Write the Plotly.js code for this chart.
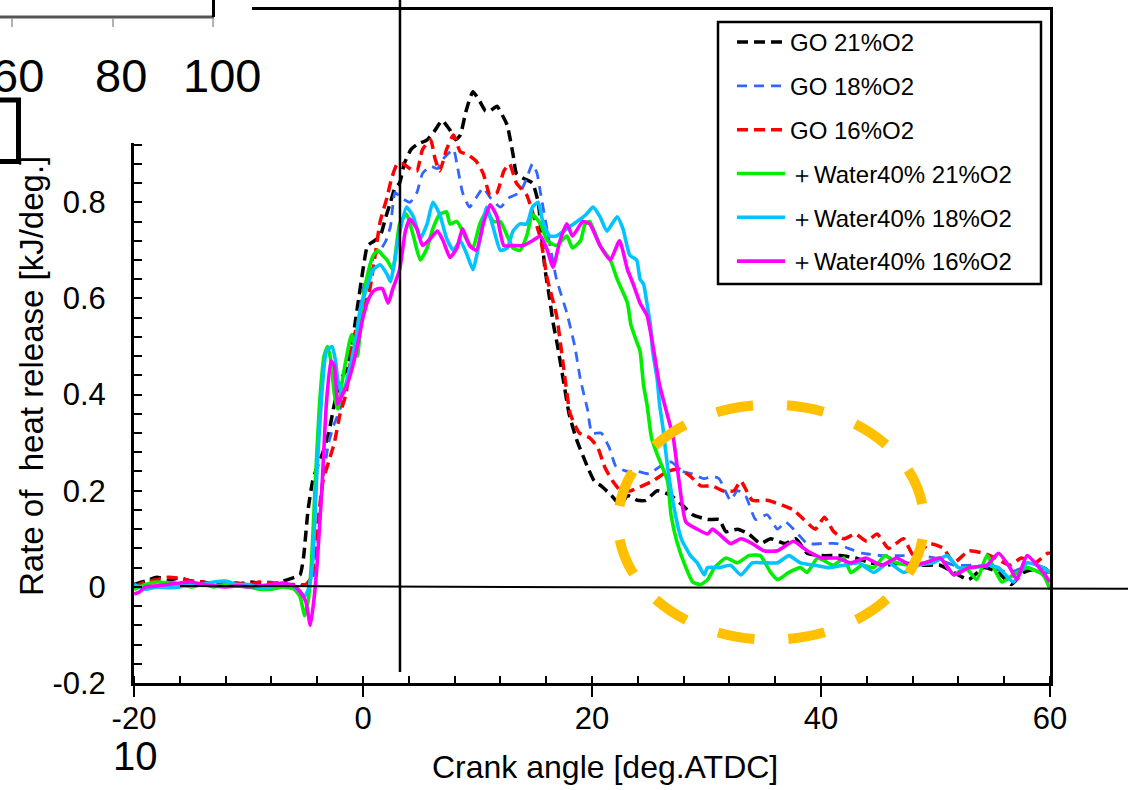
<!DOCTYPE html>
<html><head><meta charset="utf-8">
<script src="https://cdn.plot.ly/plotly-3.0.1.min.js"></script>
<style>html,body{margin:0;padding:0;background:#fff;}#chart{width:1128px;height:790px;}</style>
</head><body><div id="chart"></div>
<script>
// ---- data: [crank angle (deg ATDC), rate of heat release (kJ/deg)] ----
const GO_21 = [[-20,0.005],[-19,0.012],[-18,0.02],[-17,0.015],[-16,0.018],[-15,0.012],[-14,0.01],[-13,0.005],[-12,0.008],[-11,0.005],[-10,0.01],[-9,0.008],[-8,0.005],[-7,0.012],[-6,0.02],[-5.5,0.025],[-5.2,0.06],[-4.8,0.16],[-4.4,0.22],[-4,0.25],[-3.5,0.28],[-3,0.32],[-2.5,0.38],[-2,0.43],[-1.5,0.45],[-1,0.5],[-0.5,0.58],[0,0.66],[0.4,0.71],[1,0.72],[1.5,0.73],[2,0.77],[2.4,0.8],[2.8,0.83],[3.2,0.84],[3.6,0.88],[4.2,0.91],[4.7,0.92],[5.6,0.93],[6.3,0.95],[6.9,0.97],[7.6,0.95],[8.1,0.93],[8.5,0.94],[9,0.99],[9.6,1.03],[10.2,1.01],[10.7,0.99],[11.1,0.99],[11.7,1.0],[12.2,0.98],[12.6,0.96],[13.1,0.9],[13.4,0.86],[14,0.85],[14.8,0.84],[15.3,0.8],[15.6,0.73],[15.9,0.66],[16.3,0.6],[16.6,0.55],[17,0.5],[17.5,0.43],[18,0.36],[18.6,0.31],[19.6,0.25],[20.2,0.22],[20.8,0.21],[21.7,0.19],[22.5,0.17],[23.1,0.19],[24,0.18],[24.7,0.18],[25.7,0.2],[26.9,0.19],[27.9,0.17],[28.8,0.15],[30.1,0.14],[31.1,0.14],[31.7,0.115],[32.7,0.12],[33.7,0.11],[34.7,0.09],[35.6,0.1],[36.9,0.09],[37.8,0.1],[38.8,0.07],[40.1,0.065],[41.7,0.065],[43,0.06],[44.3,0.05],[45.6,0.045],[47.2,0.05],[48.8,0.045],[50.4,0.045],[51.6,0.03],[52.9,0.015],[54.2,0.04],[55.5,0.03],[56.6,0.005],[57.7,0.03],[59.4,0.04],[60,0.03]];
const GO_18 = [[-20,0],[-19,0.01],[-18,0.015],[-17,0.01],[-16,0.008],[-15,0.01],[-14,0.005],[-13,0.01],[-12,0.005],[-11,0.008],[-10,0.005],[-9,0.01],[-8,0.01],[-7,0.005],[-6,0],[-5,0.005],[-4.5,0.01],[-4,0.08],[-3.5,0.22],[-3,0.3],[-2.5,0.34],[-2,0.37],[-1.5,0.42],[-1,0.48],[-0.5,0.54],[0,0.62],[0.6,0.66],[1,0.69],[1.5,0.7],[2,0.72],[2.4,0.75],[2.8,0.82],[3.3,0.81],[4.1,0.8],[4.7,0.82],[5.2,0.86],[5.9,0.875],[6.5,0.87],[7,0.89],[7.9,0.91],[8.2,0.88],[8.7,0.82],[9.3,0.79],[9.9,0.81],[10.5,0.83],[11.1,0.81],[12,0.79],[12.8,0.81],[13.7,0.82],[14.3,0.85],[14.8,0.88],[15.2,0.86],[15.5,0.82],[16.1,0.74],[16.9,0.64],[17.8,0.57],[18.5,0.5],[19,0.43],[19.6,0.37],[20,0.32],[20.8,0.32],[21.5,0.29],[22.1,0.25],[23.1,0.24],[24,0.24],[25,0.235],[25.9,0.25],[26.9,0.26],[27.9,0.24],[28.8,0.235],[29.8,0.225],[30.5,0.23],[31.1,0.225],[32.1,0.18],[32.7,0.2],[33.4,0.19],[34.3,0.14],[35.3,0.15],[36.2,0.12],[36.9,0.135],[37.8,0.115],[38.8,0.09],[40.1,0.09],[41.4,0.09],[42.4,0.08],[43.6,0.07],[45.3,0.065],[46.8,0.065],[48.5,0.065],[50,0.06],[51.6,0.045],[53.3,0.045],[54.8,0.04],[56.5,0.03],[57.7,0.04],[59.4,0.03],[60,0.03]];
const GO_16 = [[-20,0],[-19,0.01],[-18,0.015],[-17,0.02],[-16,0.018],[-15,0.012],[-14,0.01],[-13,0.005],[-12,0.01],[-11,0.008],[-10,0.005],[-9,0.01],[-8,0.008],[-7,0.005],[-6,0.005],[-5,0.005],[-4.5,0.02],[-4,0.12],[-3.5,0.22],[-3,0.26],[-2.5,0.3],[-2,0.36],[-1.5,0.4],[-1.2,0.45],[-0.9,0.51],[-0.3,0.56],[0.2,0.59],[0.6,0.62],[1,0.68],[1.5,0.76],[2.1,0.81],[2.5,0.85],[3,0.88],[3.5,0.88],[4.1,0.87],[4.7,0.865],[5.2,0.91],[5.9,0.93],[6.3,0.89],[6.7,0.865],[7.3,0.91],[7.9,0.94],[8.5,0.905],[9.1,0.9],[9.9,0.885],[10.5,0.86],[11.1,0.815],[11.7,0.82],[12.3,0.865],[12.8,0.88],[13.4,0.84],[14.3,0.815],[14.8,0.78],[15.5,0.725],[16.1,0.64],[16.9,0.565],[17.5,0.46],[18.1,0.36],[18.9,0.32],[19.8,0.31],[20.5,0.29],[21.1,0.25],[21.8,0.22],[22.5,0.2],[23.4,0.2],[24.4,0.21],[25.3,0.22],[26.6,0.24],[27.6,0.245],[28.6,0.23],[29.5,0.21],[30.5,0.21],[31.4,0.2],[32.4,0.2],[33,0.22],[34,0.18],[35.3,0.18],[36.6,0.17],[37.6,0.16],[38.5,0.14],[39.5,0.12],[40.3,0.145],[41.1,0.115],[42,0.1],[43,0.11],[44,0.095],[44.9,0.11],[45.9,0.08],[47.2,0.1],[48.1,0.065],[49.5,0.09],[50.7,0.08],[51.6,0.05],[52.9,0.075],[54.2,0.07],[55.2,0.06],[56.5,0.045],[57.5,0.06],[58.7,0.05],[59.8,0.07],[60,0.07]];
const W40_21 = [[-20,-0.005],[-19,0.005],[-18,0.01],[-17,0.008],[-16,0.005],[-15,0],[-14,0.005],[-13,0],[-12,0.005],[-11,0.002],[-10,0],[-9,-0.005],[-8,-0.005],[-7,0],[-6,-0.005],[-5.5,-0.02],[-5.1,-0.06],[-4.8,-0.03],[-4.5,0.05],[-4.2,0.2],[-3.8,0.38],[-3.4,0.48],[-3.1,0.5],[-2.8,0.47],[-2.5,0.4],[-2.2,0.37],[-1.8,0.43],[-1.5,0.47],[-1,0.525],[-0.5,0.48],[0,0.6],[0.5,0.66],[0.9,0.69],[1.3,0.7],[1.7,0.69],[2.1,0.68],[2.6,0.66],[3.2,0.755],[3.8,0.775],[4.4,0.73],[5,0.68],[5.6,0.705],[6.1,0.745],[6.7,0.775],[7.3,0.78],[7.6,0.755],[8.2,0.76],[9.1,0.72],[9.6,0.705],[10.2,0.755],[10.8,0.78],[11.4,0.76],[12,0.76],[12.6,0.73],[13.1,0.705],[13.7,0.7],[14.3,0.73],[14.8,0.775],[15.5,0.755],[16.1,0.72],[16.9,0.71],[17.8,0.73],[18.3,0.705],[19,0.72],[19.4,0.755],[19.8,0.76],[20.7,0.71],[21.6,0.68],[22.2,0.64],[23.1,0.59],[23.4,0.545],[23.9,0.51],[24.2,0.49],[24.5,0.42],[24.8,0.38],[25.2,0.31],[25.7,0.275],[26.6,0.22],[26.9,0.15],[27.4,0.095],[28.2,0.04],[28.8,0.01],[29.5,0.005],[30.1,0.015],[30.7,0.04],[31.7,0.06],[32.7,0.05],[33.7,0.065],[34.7,0.065],[35.6,0.03],[36.2,0.015],[37.2,0.03],[38.2,0.04],[38.8,0.03],[39.7,0.06],[41.1,0.045],[42,0.06],[42.6,0.03],[43.6,0.045],[44.6,0.04],[45.6,0.065],[46.6,0.05],[47.8,0.045],[49.1,0.05],[50.4,0.06],[51.6,0.025],[52.6,0.04],[53.6,0.015],[54.5,0.065],[55.8,0.01],[56.8,0.025],[58,0.04],[59.4,0.025],[60,-0.005]];
const W40_18 = [[-20,0.005],[-19,-0.005],[-18,0],[-17,-0.002],[-16,0],[-15,0.005],[-14,0.005],[-13,0.01],[-12,0.012],[-11,0.005],[-10,0.005],[-9,-0.002],[-8,0],[-7,0.005],[-6,0],[-5.5,-0.01],[-5.1,-0.02],[-4.7,0],[-4.4,0.05],[-4,0.25],[-3.6,0.4],[-3.2,0.49],[-2.7,0.5],[-2.4,0.47],[-2.2,0.43],[-1.8,0.4],[-1.2,0.45],[-0.6,0.52],[-0.3,0.57],[0.3,0.62],[0.9,0.66],[1.5,0.67],[2.1,0.65],[2.4,0.635],[3.1,0.725],[3.8,0.79],[4.4,0.77],[5,0.725],[5.6,0.755],[6.1,0.8],[6.7,0.775],[7.3,0.725],[7.9,0.7],[8.5,0.72],[9.1,0.69],[9.6,0.66],[10.2,0.72],[10.8,0.79],[11.4,0.745],[12,0.7],[12.6,0.705],[13.1,0.74],[13.7,0.755],[14.3,0.755],[14.8,0.79],[15.3,0.8],[15.7,0.76],[16.3,0.73],[16.9,0.73],[17.8,0.745],[18.7,0.76],[19.5,0.775],[20.1,0.79],[20.7,0.77],[21.3,0.74],[22.2,0.77],[22.7,0.745],[23.3,0.69],[23.9,0.68],[24.2,0.64],[24.5,0.63],[24.8,0.59],[25.1,0.545],[25.3,0.49],[25.7,0.43],[25.9,0.38],[26.2,0.33],[26.6,0.25],[27.2,0.16],[27.8,0.1],[28.6,0.065],[29.2,0.05],[29.8,0.025],[30.1,0.04],[31.1,0.04],[32.1,0.045],[33,0.025],[34,0.05],[35,0.05],[36.2,0.05],[37.2,0.065],[38.2,0.05],[39.5,0.045],[40.7,0.04],[42,0.045],[43.3,0.05],[44.6,0.03],[45.9,0.05],[47.2,0.03],[48.5,0.045],[49.8,0.05],[51,0.065],[52,0.04],[53.3,0.04],[54.5,0.045],[55.5,0.04],[56.8,0.01],[58,0.05],[59.4,0.04],[60,0.03]];
const W40_16 = [[-20,-0.015],[-19.5,-0.01],[-19,0],[-18,0.002],[-17,0.005],[-16,0.008],[-15,0.01],[-14,0.005],[-13,0.002],[-12,0],[-11,0.002],[-10,0],[-9,0.002],[-8,0.005],[-7,0.008],[-6,0.002],[-5.5,-0.01],[-5,-0.03],[-4.6,-0.08],[-4.3,-0.03],[-4,0.05],[-3.6,0.2],[-3.2,0.38],[-2.8,0.47],[-2.5,0.46],[-2.2,0.38],[-1.8,0.4],[-1.4,0.42],[-1,0.45],[-0.5,0.5],[0,0.56],[0.5,0.6],[0.9,0.615],[1.3,0.62],[1.7,0.62],[2.2,0.59],[2.6,0.62],[3.2,0.66],[3.7,0.74],[4.1,0.765],[4.7,0.745],[5.2,0.71],[5.9,0.725],[6.5,0.74],[7,0.72],[7.6,0.685],[8.2,0.705],[8.7,0.745],[9.3,0.71],[9.9,0.7],[10.5,0.755],[11.1,0.795],[11.7,0.77],[12.3,0.71],[13.1,0.71],[14,0.71],[14.8,0.72],[15.5,0.73],[16.1,0.7],[16.6,0.665],[17.2,0.72],[17.8,0.755],[18.3,0.73],[19.2,0.76],[19.8,0.755],[20.7,0.71],[21.6,0.68],[22.4,0.72],[23.1,0.66],[23.6,0.63],[24.2,0.59],[24.8,0.565],[25.3,0.505],[25.9,0.42],[26.5,0.365],[27.1,0.31],[27.6,0.22],[28.2,0.135],[29.2,0.12],[30.1,0.11],[30.5,0.12],[31.1,0.11],[32.1,0.09],[33,0.1],[34,0.09],[35,0.075],[36.2,0.075],[37.6,0.095],[38.8,0.075],[40.1,0.06],[41.4,0.06],[42.6,0.05],[43.9,0.06],[45.3,0.045],[46.6,0.06],[47.8,0.045],[49.1,0.05],[50.4,0.06],[51.6,0.025],[52.9,0.04],[54.5,0.045],[55.5,0.07],[56.5,0.04],[57.1,0.015],[58,0.065],[59.4,0.03],[60,0.01]];

const SERIES_NAMES = ['GO 21%O2','GO 18%O2','GO 16%O2','\uFF0BWater40% 21%O2','\uFF0BWater40% 18%O2','\uFF0BWater40% 16%O2'];
const X_TICKS = [-20, 0, 20, 40, 60];
const X_TICK_TEXT = ['-20', '0', '20', '40', '60'];
const Y_TICKS = [-0.2, 0, 0.2, 0.4, 0.6, 0.8];
const Y_TICK_TEXT = ['-0.2', '0', '0.2', '0.4', '0.6', '0.8'];
const INJECTION_MARK = 3.23;            // vertical reference line (deg ATDC)
const HIGHLIGHT = {x: [22.27, 49.0], y: [-0.11, 0.379]}; // highlighted tail region
const INSET_TICK_TEXT = ['60', '80', '100']; // fragment of neighbouring figure
const INSET_LABEL = '10';

// ---- styles ----
const STYLES = [
  {color:'#000000', width:3.5, dash:'11px,6px'},
  {color:'#3366ff', width:2.8, dash:'10px,7px'},
  {color:'#ff0000', width:3.5, dash:'11px,6px'},
  {color:'#00ee00', width:3.6, dash:'solid'},
  {color:'#00c4ff', width:3.6, dash:'solid'},
  {color:'#ff00ff', width:3.6, dash:'solid'}
];
const ALL = [GO_21, GO_18, GO_16, W40_21, W40_18, W40_16];
const FONT = 'Liberation Sans, Arial, sans-serif';

const traces = ALL.map((s, i) => ({
  type:'scatter', mode:'lines', name: SERIES_NAMES[i], legendgroup:'g'+i,
  x: s.map(p => p[0]), y: s.map(p => p[1]),
  line: {color: STYLES[i].color, width: STYLES[i].width, dash: STYLES[i].dash, shape:'spline', smoothing:0.5}
}));

// pixel -> paper helpers for decorations
const PL = 134, PR = 1050, PT = 10, PB = 683;
const px = v => (v - PL) / (PR - PL);
const py = v => (PB - v) / (PB - PT);

const shapes = [
  {type:'line', xref:'paper', yref:'y', x0:px(180), x1:px(1132), y0:0.002, y1:-0.004, line:{color:'#000', width:2}, layer:'above'},
  {type:'line', xref:'x', yref:'paper', x0:INJECTION_MARK, x1:INJECTION_MARK, y0:py(672), y1:py(-3), line:{color:'#000', width:2.5}, layer:'above'},
  {type:'circle', xref:'x', yref:'y', x0:HIGHLIGHT.x[0], x1:HIGHLIGHT.x[1], y0:HIGHLIGHT.y[0], y1:HIGHLIGHT.y[1], line:{color:'#ffc000', width:10, dash:'0px,17px,37px,17px'}, layer:'above'},
  {type:'rect', xref:'paper', yref:'paper', x0:px(718), x1:px(1041), y0:py(284), y1:py(22), line:{color:'#000', width:2.5}, fillcolor:'rgba(0,0,0,0)', layer:'above'},
  {type:'rect', xref:'paper', yref:'paper', x0:px(-5), x1:px(252), y0:py(143), y1:py(-5), line:{width:0}, fillcolor:'#ffffff', layer:'above'},
  {type:'line', xref:'paper', yref:'paper', x0:px(-5), x1:px(214), y0:py(17), y1:py(17), line:{color:'#555', width:3}, layer:'above'},
  {type:'line', xref:'paper', yref:'paper', x0:px(12), x1:px(12), y0:py(18), y1:py(27), line:{color:'#999', width:1.5}, layer:'above'},
  {type:'line', xref:'paper', yref:'paper', x0:px(113), x1:px(113), y0:py(18), y1:py(27), line:{color:'#999', width:1.5}, layer:'above'},
  {type:'line', xref:'paper', yref:'paper', x0:px(213), x1:px(213), y0:py(18), y1:py(27), line:{color:'#999', width:1.5}, layer:'above'},
  {type:'line', xref:'paper', yref:'paper', x0:px(213.5), x1:px(213.5), y0:py(-5), y1:py(17), line:{color:'#000', width:3}, layer:'above'},
  {type:'path', xref:'paper', yref:'paper', path:`M${px(-5)},${py(100)} L${px(18.5)},${py(100)} L${px(18.5)},${py(161.5)} L${px(-5)},${py(161.5)}`, line:{color:'#000', width:5}, layer:'above'}
];

const ann = (x, y, text, size, extra) => Object.assign({xref:'paper', yref:'paper', x:px(x), y:py(y), text, showarrow:false,
  xanchor:'center', yanchor:'middle', font:{size, color:'#000', family:FONT}}, extra || {});
const annotations = [
  ann(31, 376, 'Rate of\u00a0 heat release [kJ/deg.]', 33, {textangle:-90}),
  ann(605, 767, 'Crank angle [deg.ATDC]', 32),
  ann(135, 756, INSET_LABEL, 40),
  ann(18, 75, INSET_TICK_TEXT[0], 47),
  ann(121, 75, INSET_TICK_TEXT[1], 47),
  ann(222, 75, INSET_TICK_TEXT[2], 47)
];

const layout = {
  width:1128, height:790,
  margin:{l:PL, r:1128-PR, t:PT, b:790-PB},
  paper_bgcolor:'#fff', plot_bgcolor:'#fff',
  font:{family:FONT, color:'#000'},
  showlegend:true,
  legend:{x:px(732), y:py(20), xanchor:'left', yanchor:'top', bgcolor:'rgba(0,0,0,0)', borderwidth:0,
          font:{size:24, family:FONT, color:'#000'}, tracegroupgap:9.6, itemwidth:48, traceorder:'grouped'},
  xaxis:{range:[-20,60], tickmode:'array', tickvals:X_TICKS, ticktext:X_TICK_TEXT,
         ticks:'outside', ticklen:11, tickwidth:2.5, tickcolor:'#000',
         showline:true, linewidth:3, linecolor:'#000', mirror:true, showgrid:false, zeroline:false,
         tickfont:{size:31, family:FONT, color:'#000'}, ticklabelstandoff:-5,
         minor:{ticks:'inside', ticklen:7, tickwidth:2, tickcolor:'#000', tick0:-20, dtick:4, showgrid:false}},
  yaxis:{range:[-0.2,1.2], tickmode:'array', tickvals:Y_TICKS, ticktext:Y_TICK_TEXT,
         ticks:'inside', ticklen:8, tickwidth:2, tickcolor:'#000',
         showline:true, linewidth:3, linecolor:'#000', mirror:true, showgrid:false, zeroline:false,
         tickfont:{size:31, family:FONT, color:'#000'}, ticklabelstandoff:19,
         minor:{ticks:'inside', ticklen:8, tickwidth:2, tickcolor:'#000', tick0:0, dtick:0.04, showgrid:false}},
  shapes, annotations
};

Plotly.newPlot('chart', traces, layout, {displayModeBar:false, staticPlot:true});
</script></body></html>
